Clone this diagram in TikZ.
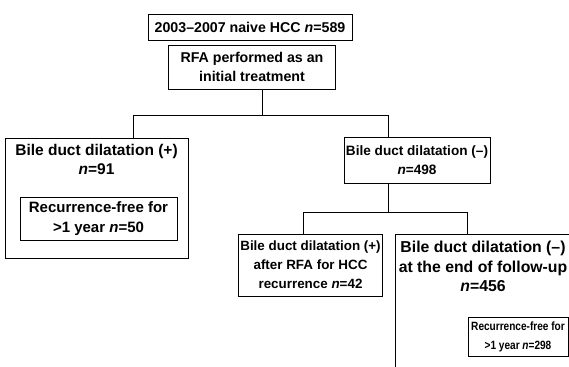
\documentclass[tikz,border=0pt]{standalone}
\usepackage{fontspec}
\setmainfont{Liberation Sans}
\newfontfamily\condB[FakeStretch=0.84]{Liberation Sans}
\newcommand\setfs[2]{\fontsize{#1}{#2}\selectfont\bfseries}
\begin{document}
\begin{tikzpicture}[x=1pt,y=-1pt,
  box/.style={draw, line width=0.9pt, align=center, inner sep=2pt},
  txt/.style={align=center, inner sep=2pt},
  conn/.style={line width=0.9pt}]
\useasboundingbox (0,0) rectangle (569,366);
\clip (0,0) rectangle (569,366);
% top level
\node[box, minimum width=204, minimum height=26, font=\setfs{14.2}{19}] (top) at (250,27) {2003--2007 naive HCC \textit{n}=589};
\node[box, minimum width=167, minimum height=44, font=\setfs{14.2}{19}] (rfa) at (252,67) {RFA performed as an\\initial treatment};
% left branch
\node[box, minimum width=183, minimum height=120, anchor=north west] (L) at (5,138) {};
\node[txt, anchor=north, font=\setfs{15.5}{19}] (Lt) at (96.5,142) {Bile duct dilatation (+)\\\textit{n}=91};
\node[box, minimum width=157, minimum height=43, font=\setfs{15}{19.5}] (Li) at (98.5,218.5) {Recurrence-free for\\>1 year \textit{n}=50};
% right branch
\node[box, minimum width=136, minimum height=46, font=\setfs{13.6}{18.5}] (R) at (417,160) {Bile duct dilatation (--)\\\textit{n}=498};
\node[box, minimum width=143, minimum height=62, font=\setfs{13.4}{19}] (M) at (310.5,265) {Bile duct dilatation (+)\\after RFA for HCC\\recurrence \textit{n}=42};
\node[box, minimum width=230, minimum height=180, anchor=north west] (RR) at (395,234) {};
\node[txt, anchor=north, font=\setfs{15.8}{19.5}] (RRt) at (483,239) {Bile duct dilatation (--)\\at the end of follow-up\\\textit{n}=456};
\node[box, minimum width=100, minimum height=39, font=\condB\setfs{12}{19}] (RRi) at (518,336.5) {Recurrence-free for\\>1 year \textit{n}=298};
% connectors
\coordinate (c0) at (262,115);
\coordinate (bl) at (133,115);
\coordinate (br) at (388,115);
\coordinate (c1) at (388,212);
\coordinate (b2l) at (303,212);
\coordinate (b2r) at (467,212);
\draw[conn] (rfa.south -| c0) -- (c0);
\draw[conn] (L.north -| bl) -- (bl) -- (br) -- (R.north -| br);
\draw[conn] (R.south -| c1) -- (c1);
\draw[conn] (M.north -| b2l) -- (b2l) -- (b2r) -- (RR.north -| b2r);
\end{tikzpicture}
\end{document}
